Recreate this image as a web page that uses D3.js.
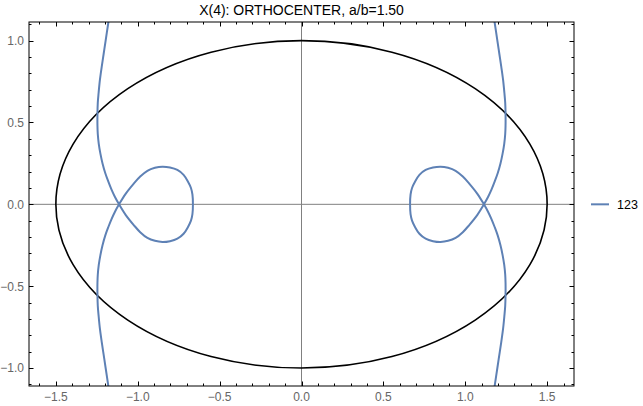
<!DOCTYPE html>
<html>
<head>
<meta charset="utf-8">
<script src="https://cdn.jsdelivr.net/npm/d3@7"></script>
<style>
	body { margin: 0; background: #fff; }
	text { font-family: "Liberation Sans", Arial, sans-serif; }
</style>
</head>
<body>
<script>
(function () {
	"use strict";

	var w = 643;
	var h = 406;

	// ellipse semi-axes
	var ellipseA = 1.5;
	var ellipseB = 1.0;

	// locus of X(4), left half:
	// top branch -> crossing -> lower loop -> upper loop -> crossing -> bottom branch
	var leftX = [-1.172, -1.179, -1.196, -1.208, -1.220, -1.231, -1.239, -1.244, -1.246, -1.246, -1.244, -1.238, -1.228, -1.215, -1.198, -1.180, -1.160, -1.139, -1.114,
		-1.074, -1.023, -0.985, -0.941, -0.895, -0.849, -0.803, -0.758, -0.720, -0.693, -0.675, -0.666, -0.663,
		-0.666, -0.675, -0.693, -0.720, -0.758, -0.803, -0.849, -0.895, -0.941, -0.985, -1.023, -1.074, -1.114,
		-1.139, -1.160, -1.180, -1.198, -1.215, -1.228, -1.238, -1.244, -1.246, -1.246, -1.244, -1.239, -1.231, -1.220, -1.208, -1.196, -1.179, -1.172];
	var leftY = [1.16, 1.114, 1.00, 0.92, 0.84, 0.76, 0.68, 0.62, 0.55, 0.48, 0.43, 0.37, 0.31, 0.25, 0.19, 0.14, 0.09, 0.045, 0.0,
		-0.064, -0.128, -0.170, -0.205, -0.223, -0.230, -0.225, -0.210, -0.180, -0.138, -0.100, -0.060, 0.0,
		0.060, 0.100, 0.138, 0.180, 0.210, 0.225, 0.230, 0.223, 0.205, 0.170, 0.128, 0.064, 0.0,
		-0.045, -0.09, -0.14, -0.19, -0.25, -0.31, -0.37, -0.43, -0.48, -0.55, -0.62, -0.68, -0.76, -0.84, -0.92, -1.00, -1.114, -1.16];

	// right half
	var rightX = [1.172, 1.179, 1.196, 1.208, 1.220, 1.231, 1.239, 1.244, 1.246, 1.246, 1.244, 1.238, 1.228, 1.215, 1.198, 1.180, 1.160, 1.139, 1.114,
		1.074, 1.023, 0.985, 0.941, 0.895, 0.849, 0.803, 0.758, 0.720, 0.693, 0.675, 0.666, 0.663,
		0.666, 0.675, 0.693, 0.720, 0.758, 0.803, 0.849, 0.895, 0.941, 0.985, 1.023, 1.074, 1.114,
		1.139, 1.160, 1.180, 1.198, 1.215, 1.228, 1.238, 1.244, 1.246, 1.246, 1.244, 1.239, 1.231, 1.220, 1.208, 1.196, 1.179, 1.172];
	var rightY = [1.16, 1.114, 1.00, 0.92, 0.84, 0.76, 0.68, 0.62, 0.55, 0.48, 0.43, 0.37, 0.31, 0.25, 0.19, 0.14, 0.09, 0.045, 0.0,
		-0.064, -0.128, -0.170, -0.205, -0.223, -0.230, -0.225, -0.210, -0.180, -0.138, -0.100, -0.060, 0.0,
		0.060, 0.100, 0.138, 0.180, 0.210, 0.225, 0.230, 0.223, 0.205, 0.170, 0.128, 0.064, 0.0,
		-0.045, -0.09, -0.14, -0.19, -0.25, -0.31, -0.37, -0.43, -0.48, -0.55, -0.62, -0.68, -0.76, -0.84, -0.92, -1.00, -1.114, -1.16];

	var majorTicks = [-1.5, -1.0, -0.5, 0.0, 0.5, 1.0, 1.5];
	var yMajorTicks = [-1.0, -0.5, 0.0, 0.5, 1.0];
	var seriesName = "123";
	var title = "X(4): ORTHOCENTER, a/b=1.50";

	var left = 29, right = 574, top = 22, bottom = 386;

	var svg = d3.select("body")
		.append("svg")
		.attr("width", w)
		.attr("height", h);

	var xScale = d3.scaleLinear()
		.domain([-1.664, 1.664])
		.range([left, right]);

	var yScale = d3.scaleLinear()
		.domain([-1.11, 1.114])
		.range([bottom, top]);

	svg.append("defs").append("clipPath")
		.attr("id", "plotclip")
		.append("rect")
		.attr("x", left)
		.attr("y", top)
		.attr("width", right - left)
		.attr("height", bottom - top);

	var fmt = function (d) { return d3.format(".1f")(d).replace("-", "\u2212"); };

	// Axes through the origin
	svg.append("line")
		.attr("x1", left).attr("x2", right)
		.attr("y1", yScale(0)).attr("y2", yScale(0))
		.attr("stroke", "#808080").attr("stroke-width", 1);
	svg.append("line")
		.attr("x1", xScale(0)).attr("x2", xScale(0))
		.attr("y1", top).attr("y2", bottom)
		.attr("stroke", "#808080").attr("stroke-width", 1);

	var plot = svg.append("g").attr("clip-path", "url(#plotclip)");

	// Ellipse
	plot.append("ellipse")
		.attr("cx", xScale(0))
		.attr("cy", yScale(0))
		.attr("rx", xScale(ellipseA) - xScale(0))
		.attr("ry", yScale(0) - yScale(ellipseB))
		.attr("fill", "none")
		.attr("stroke", "#000")
		.attr("stroke-width", 1.6);

	// Locus
	var lineFun = d3.line()
		.x((d) => xScale(d[0]))
		.y((d) => yScale(d[1]))
		.curve(d3.curveCatmullRom.alpha(0.5));

	[[leftX, leftY], [rightX, rightY]].forEach(function (s) {
		plot.append("path")
			.attr("d", lineFun(d3.zip(s[0], s[1])))
			.attr("fill", "none")
			.attr("stroke", "#5e81b5")
			.attr("stroke-width", 2);
	});

	// Frame ticks
	var minorX = d3.range(-16, 17).map((i) => i / 10);
	var minorY = d3.range(-11, 12).map((i) => i / 10);
	var isMajor = (v) => Math.abs(v * 2 - Math.round(v * 2)) < 1e-6;

	var ticks = svg.append("g").attr("stroke", "#000").attr("stroke-width", 1);
	minorX.forEach(function (v) {
		var len = isMajor(v) ? 4.5 : 2.5;
		var x = Math.round(xScale(v)) + 0.5;
		ticks.append("line").attr("x1", x).attr("x2", x).attr("y1", bottom).attr("y2", bottom - len);
		ticks.append("line").attr("x1", x).attr("x2", x).attr("y1", top).attr("y2", top + len);
	});
	minorY.forEach(function (v) {
		var len = isMajor(v) ? 4.5 : 2.5;
		var y = Math.round(yScale(v)) + 0.5;
		ticks.append("line").attr("y1", y).attr("y2", y).attr("x1", left).attr("x2", left + len);
		ticks.append("line").attr("y1", y).attr("y2", y).attr("x1", right).attr("x2", right - len);
	});

	// Frame
	svg.append("rect")
		.attr("x", left).attr("y", top)
		.attr("width", right - left).attr("height", bottom - top)
		.attr("fill", "none").attr("stroke", "#000").attr("stroke-width", 1);

	// Tick labels
	svg.append("g").selectAll("text")
		.data(majorTicks)
		.enter().append("text")
		.attr("x", (d) => xScale(d))
		.attr("y", 401)
		.attr("text-anchor", "middle")
		.attr("font-size", 12)
		.attr("fill", "#666")
		.text(fmt);

	svg.append("g").selectAll("text")
		.data(yMajorTicks)
		.enter().append("text")
		.attr("x", 24)
		.attr("y", (d) => yScale(d) + 4.5)
		.attr("text-anchor", "end")
		.attr("font-size", 12)
		.attr("fill", "#666")
		.text(fmt);

	// Title
	svg.append("text")
		.attr("x", (left + right) / 2)
		.attr("y", 15)
		.attr("text-anchor", "middle")
		.attr("font-size", 14)
		.attr("fill", "#000")
		.text(title);

	// Legend
	svg.append("line")
		.attr("x1", 591).attr("x2", 609)
		.attr("y1", yScale(0)).attr("y2", yScale(0))
		.attr("stroke", "#5e81b5").attr("stroke-width", 2);
	svg.append("text")
		.attr("x", 617)
		.attr("y", yScale(0) + 4.5)
		.attr("font-size", 12.5)
		.attr("fill", "#000")
		.text(seriesName);
})();
</script>
</body>
</html>
